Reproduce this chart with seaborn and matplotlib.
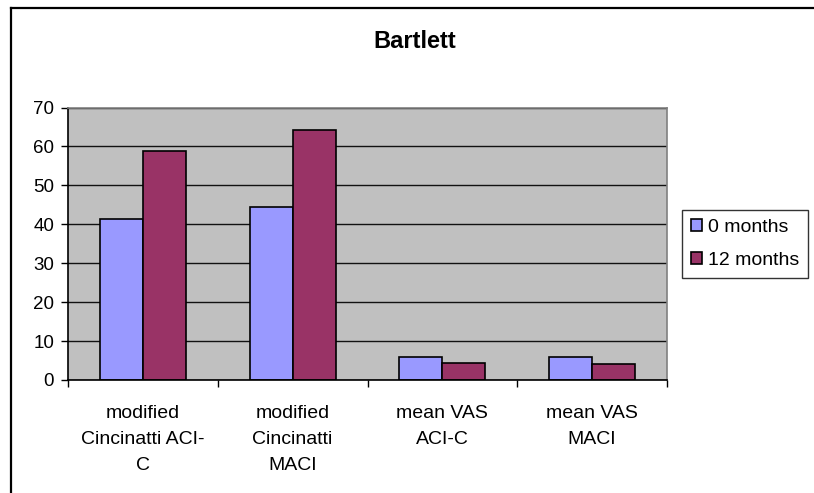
import numpy as np
import pandas as pd
import matplotlib
matplotlib.use("Agg")
import matplotlib.pyplot as plt
import seaborn as sns
from matplotlib.lines import Line2D

# ---- data ----
categories = ["modified\nCincinatti ACI-\nC", "modified\nCincinatti\nMACI",
              "mean VAS\nACI-C", "mean VAS\nMACI"]
series_names = ["0 months", "12 months"]
values_0m = [41.3, 44.5, 6.0, 6.0]
values_12m = [58.9, 64.3, 4.4, 4.0]
y_ticks = [0, 10, 20, 30, 40, 50, 60, 70]
title = "Bartlett"
colors = ["#9999FF", "#993366"]

plt.rcParams["font.family"] = ["Liberation Sans", "DejaVu Sans"]

df = pd.DataFrame({
    "category": categories * 2,
    "series": [series_names[0]] * len(categories) + [series_names[1]] * len(categories),
    "value": values_0m + values_12m,
})

W, H = 814, 493
fig = plt.figure(figsize=(W / 100, H / 100), dpi=100)
fig.patch.set_facecolor("white")
ax = fig.add_axes([68 / W, 1 - 380 / H, (667 - 68) / W, (380 - 107.5) / H])

sns.barplot(data=df, x="category", y="value", hue="series", order=categories,
            hue_order=series_names, palette=colors, width=0.575, saturation=1,
            edgecolor="black", linewidth=1.2, errorbar=None, ax=ax)

ax.set_facecolor("#C0C0C0")
ax.set_xlim(-0.5, len(categories) - 0.5)
ax.set_ylim(y_ticks[0], y_ticks[-1])
ax.set_yticks(y_ticks)
ax.set_yticklabels([str(t) for t in y_ticks], fontsize=13.5)
ax.yaxis.grid(True, color="#111111", linewidth=1.0)
ax.xaxis.grid(False)
ax.set_axisbelow(True)
ax.set_xlabel("")
ax.set_ylabel("")

ax.set_xticks(range(len(categories)))
ax.set_xticklabels(categories, fontsize=14, linespacing=1.68)
ax.set_xticks(np.arange(-0.5, len(categories), 1.0), minor=True)
ax.tick_params(axis="x", which="major", length=0, pad=18)
ax.tick_params(axis="x", which="minor", length=5, width=1, direction="out", color="black")
ax.tick_params(axis="y", length=5, width=1, direction="out", color="black", pad=5)

for s in ["left", "bottom"]:
    ax.spines[s].set_color("black")
    ax.spines[s].set_linewidth(1.2)
for s in ["top", "right"]:
    ax.spines[s].set_color("#808080")
    ax.spines[s].set_linewidth(1.2)

# legend
handles, labels = ax.get_legend_handles_labels()
if ax.get_legend() is not None:
    ax.get_legend().remove()
leg = fig.legend(handles, labels, loc="center",
                 bbox_to_anchor=(745 / W, 1 - 244 / H), bbox_transform=fig.transFigure,
                 fontsize=14, frameon=True, fancybox=False, shadow=False,
                 handlelength=0.6, handleheight=0.6, handletextpad=0.3,
                 labelspacing=0.83, borderpad=0.45, borderaxespad=0)
leg.get_frame().set_edgecolor("black")
leg.get_frame().set_linewidth(1.0)

# title
fig.text(415 / W, 1 - 48 / H, title, ha="center", va="baseline",
         fontsize=17, fontweight="bold")

# chart frame (left and top edges visible)
fig.add_artist(Line2D([11 / W, 11 / W], [0, 1 - 8 / H], transform=fig.transFigure,
                      color="black", linewidth=1.6))
fig.add_artist(Line2D([11 / W, 1], [1 - 8 / H, 1 - 8 / H], transform=fig.transFigure,
                      color="black", linewidth=1.6))

fig.savefig("out.png", dpi=100)
